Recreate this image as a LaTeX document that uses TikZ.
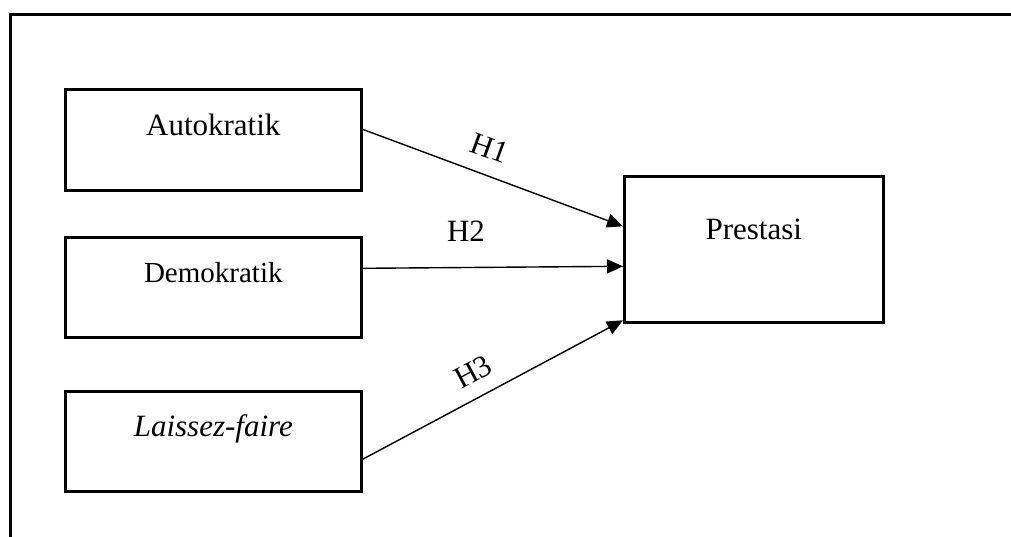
\documentclass[tikz,border=0pt]{standalone}
\usepackage{fontspec}
\setmainfont{Liberation Serif}
\usetikzlibrary{arrows.meta}
\begin{document}
\begin{tikzpicture}[x=1pt,y=-1pt,
  frameline/.style={line width=2.6pt},
  varbox/.style={draw, line width=2.6pt, anchor=north west, inner sep=0pt,
    minimum width=296pt, minimum height=101pt,
    text height=22pt, text depth=31pt,
    font=\fontsize{31}{36}\selectfont},
  link/.style={line width=1.4pt, -{Triangle[length=16pt,width=14pt]}},
  hyp/.style={font=\fontsize{31}{36}\selectfont, inner sep=0pt}]
  \useasboundingbox (0,0) rectangle (1011,536);
  \clip (0,0) rectangle (1011,536);
  % outer frame (top and left edges)
  \draw[frameline] (1020,14.5) -- (10.3,14.5) -- (10.3,545);
  % variable boxes
  \node[varbox] (auto) at (64,88) {Autokratik};
  \node[varbox, minimum height=100pt, font=\fontsize{29}{34}\selectfont] (demo) at (64,236) {Demokratik};
  \node[varbox, minimum height=100pt] (lf) at (64,390) {\itshape Laissez-faire};
  \node[varbox, minimum width=259pt, minimum height=146pt,
        text height=22pt, text depth=42pt] (pres) at (623,175) {Prestasi};
  % hypothesised paths
  \draw[link] ([yshift=10.5pt]auto.east) -- ([yshift=23pt]pres.west);
  \draw[link] ([yshift=19pt]demo.east) -- ([yshift=-17pt]pres.west);
  \draw[link] ([yshift=-18pt]lf.east) -- ([yshift=-71pt]pres.west);
  % path labels
  \node[hyp, rotate=-20] (h1) at (490,148) {H1};
  \node[hyp] (h2) at (466,231) {H2};
  \node[hyp, rotate=28] (h3) at (473,372) {H3};
\end{tikzpicture}
\end{document}
